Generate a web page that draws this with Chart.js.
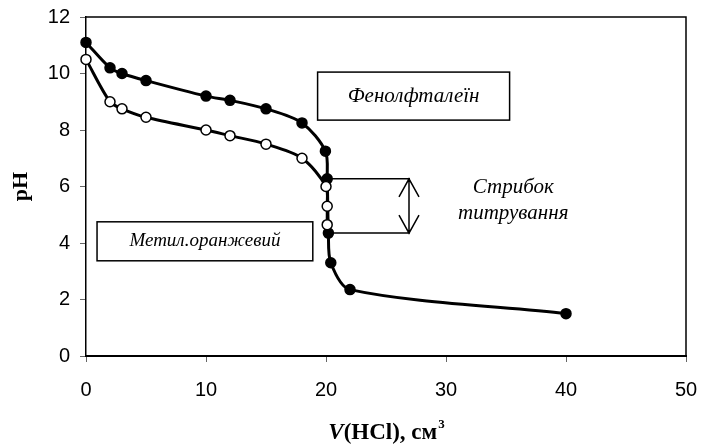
<!DOCTYPE html>
<html>
<head>
<meta charset="utf-8">
<script src="https://cdn.jsdelivr.net/npm/chart.js@4"></script>
<style>
  html, body { margin: 0; padding: 0; background: #fff; }
  #wrap { width: 704px; height: 448px; }
</style>
</head>
<body>
<div id="wrap"><canvas id="titration-chart"></canvas></div>
<script>
// Фенолфталеїн (filled markers)
const phenolV = [0, 2, 3, 5, 10, 12, 15, 18, 19.95, 20.1, 20.2, 20.4, 22, 40];
const phenolPH = [11.1, 10.2, 10.0, 9.75, 9.2, 9.05, 8.75, 8.25, 7.25, 6.27, 4.35, 3.3, 2.35, 1.5];

// Метил.оранжевий (open markers)
const methylV = [0, 2, 3, 5, 10, 12, 15, 18, 20, 20.1, 20.1];
const methylPH = [10.5, 9.0, 8.75, 8.45, 8.0, 7.8, 7.5, 7.0, 6.0, 5.3, 4.65];

const xTicks = [0, 10, 20, 30, 40, 50];
const yTicks = [0, 2, 4, 6, 8, 10, 12];

// jump bounds (pH) and labels
const jumpTop = 6.27;
const jumpBottom = 4.35;
const jumpRight = 27;

const toPoints = (xs, ys) => xs.map((x, i) => ({x: x, y: ys[i]}));

const annotations = {
  id: 'annotations',
  afterDatasetsDraw(chart) {
    const ctx = chart.ctx;
    const xs = chart.scales.x, ys = chart.scales.y;
    const area = chart.chartArea;
    ctx.save();
    // frame top/right
    ctx.strokeStyle = '#000';
    ctx.lineWidth = 1.5;
    ctx.beginPath();
    ctx.moveTo(area.left, area.top);
    ctx.lineTo(area.right, area.top);
    ctx.lineTo(area.right, area.bottom);
    ctx.stroke();

    // indicator boxes
    ctx.lineWidth = 1.5;
    const box = (x1, y1, x2, y2, text) => {
      const l = xs.getPixelForValue(x1), r = xs.getPixelForValue(x2);
      const t = ys.getPixelForValue(y1), b = ys.getPixelForValue(y2);
      ctx.fillStyle = '#fff';
      ctx.fillRect(l, t, r - l, b - t);
      ctx.strokeRect(l, t, r - l, b - t);
      ctx.fillStyle = '#000';
      ctx.textAlign = 'center';
      ctx.textBaseline = 'middle';
      ctx.fillText(text, (l + r) / 2, (t + b) / 2);
    };
    ctx.font = 'italic 21px "Liberation Serif"';
    box(19.3, 10.05, 35.3, 8.35, 'Фенолфталеїн');
    ctx.font = 'italic 19px "Liberation Serif"';
    box(0.92, 4.75, 18.9, 3.37, 'Метил.оранжевий');

    // titration jump
    const x0 = xs.getPixelForValue(20.15);
    const x1 = xs.getPixelForValue(jumpRight);
    const yT = ys.getPixelForValue(jumpTop);
    const yB = ys.getPixelForValue(jumpBottom);
    ctx.lineWidth = 1.5;
    ctx.beginPath();
    ctx.moveTo(x0, yT); ctx.lineTo(x1, yT);
    ctx.moveTo(x0, yB); ctx.lineTo(x1, yB);
    const ax = x1 - 1;
    ctx.moveTo(ax, yT); ctx.lineTo(ax, yB);
    ctx.moveTo(ax - 10, yT + 18); ctx.lineTo(ax, yT); ctx.lineTo(ax + 10, yT + 18);
    ctx.moveTo(ax - 10, yB - 18); ctx.lineTo(ax, yB); ctx.lineTo(ax + 10, yB - 18);
    ctx.stroke();

    ctx.font = 'italic 21px "Liberation Serif"';
    ctx.textAlign = 'center';
    ctx.textBaseline = 'middle';
    ctx.fillStyle = '#000';
    ctx.fillText('Стрибок', xs.getPixelForValue(35.6), ys.getPixelForValue(5.95));
    ctx.fillText('титрування', xs.getPixelForValue(35.6), ys.getPixelForValue(5.06));

    // x axis title with italic V
    const cx = (area.left + area.right) / 2;
    const base = 439;
    const partV = 'V';
    const partRest = '(HCl), см';
    ctx.font = 'bold italic 23px "Liberation Serif"';
    const wV = ctx.measureText(partV).width;
    ctx.font = 'bold 23px "Liberation Serif"';
    const wR = ctx.measureText(partRest).width;
    ctx.font = 'bold 13px "Liberation Serif"';
    const wS = ctx.measureText('3').width;
    let px = cx - (wV + wR + wS) / 2;
    ctx.textAlign = 'left';
    ctx.textBaseline = 'alphabetic';
    ctx.font = 'bold italic 23px "Liberation Serif"';
    ctx.fillText(partV, px, base);
    px += wV;
    ctx.font = 'bold 23px "Liberation Serif"';
    ctx.fillText(partRest, px, base);
    px += wR;
    ctx.font = 'bold 13px "Liberation Serif"';
    ctx.fillText('3', px + 1, base - 11);
    ctx.restore();
  }
};

new Chart(
  document.getElementById('titration-chart'),
  {
    type: 'scatter',
    data: {
      datasets: [
        {
          label: 'Метил.оранжевий',
          data: toPoints(methylV, methylPH),
          showLine: true,
          clip: false,
          borderColor: '#000',
          borderWidth: 3,
          tension: 0.3,
          pointRadius: 5,
          pointBackgroundColor: '#fff',
          pointBorderColor: '#000',
          pointBorderWidth: 1.5
        },
        {
          label: 'Фенолфталеїн',
          data: toPoints(phenolV, phenolPH),
          showLine: true,
          clip: false,
          borderColor: '#000',
          borderWidth: 3,
          tension: 0.3,
          pointRadius: 5,
          pointBackgroundColor: '#000',
          pointBorderColor: '#000',
          pointBorderWidth: 1.5
        }
      ]
    },
    options: {
      responsive: true,
      maintainAspectRatio: false,
      animation: false,
      layout: { padding: { top: 17, right: 18, left: 0, bottom: 0 } },
      plugins: {
        legend: { display: false },
        tooltip: { enabled: false }
      },
      scales: {
        x: {
          type: 'linear',
          min: 0,
          max: 50,
          afterBuildTicks: axis => { axis.ticks = xTicks.map(v => ({value: v})); },
          afterFit: axis => {
            axis.height = 92;
            axis.paddingLeft = 0;
            axis.paddingRight = 0;
          },
          grid: { drawOnChartArea: false, color: '#666', tickLength: 6 },
          border: { color: '#000', width: 2 },
          ticks: { color: '#000', font: { family: '"Liberation Sans"', size: 20 }, padding: 16, maxRotation: 0 }
        },
        y: {
          type: 'linear',
          min: 0,
          max: 12,
          afterBuildTicks: axis => { axis.ticks = yTicks.map(v => ({value: v})); },
          afterFit: axis => {
            axis.width = 86;
            axis.paddingTop = 0;
            axis.paddingBottom = 0;
          },
          grid: { drawOnChartArea: false, color: '#666', tickLength: 6 },
          border: { color: '#000', width: 1.5 },
          ticks: { color: '#000', font: { family: '"Liberation Sans"', size: 20 }, padding: 10 },
          title: {
            display: true,
            text: 'pH',
            color: '#000',
            font: { family: '"Liberation Serif"', size: 22, weight: 'bold' },
            padding: { top: 8, bottom: 0 }
          }
        }
      }
    },
    plugins: [annotations]
  }
);
</script>
</body>
</html>
